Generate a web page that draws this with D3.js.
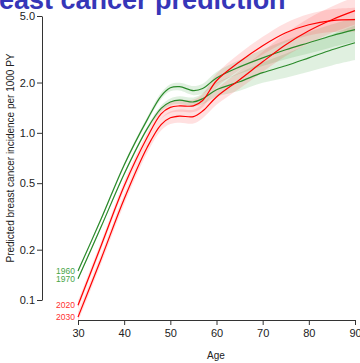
<!DOCTYPE html>
<html><head><meta charset="utf-8">
<script src="https://cdn.jsdelivr.net/npm/d3@7"></script>
<style>body{margin:0;background:#fff}svg{display:block}</style>
</head><body>
<svg id="chart" width="360" height="363"></svg>
<script>
const ages = [30,35,40,45,48,50,52,55,57,60,65,70,75,80,85,90];
const yearLabels = ["1960","1970","2020","2030"];
const inc1960 = [0.149,0.305,0.643,1.20,1.66,1.86,1.89,1.79,1.84,2.13,2.48,2.81,3.14,3.46,3.81,4.14];
const inc1970 = [0.134,0.274,0.568,1.06,1.40,1.53,1.57,1.53,1.60,1.81,2.02,2.29,2.52,2.81,3.14,3.46];
const inc2020 = [0.093,0.211,0.481,0.94,1.30,1.42,1.45,1.45,1.56,2.05,2.66,3.32,3.97,4.43,4.69,4.75];
const inc2030 = [0.079,0.176,0.402,0.82,1.12,1.23,1.26,1.25,1.35,1.64,2.08,2.66,3.37,4.08,4.75,5.38];
const ci1960 = [1.02,1.02,1.025,1.035,1.045,1.05,1.055,1.065,1.07,1.085,1.10,1.12,1.14,1.16,1.17,1.18];
const ci1970 = [1.015,1.015,1.02,1.03,1.04,1.05,1.055,1.065,1.08,1.10,1.13,1.15,1.18,1.21,1.24,1.27];
const ci2020 = [1.06,1.06,1.065,1.07,1.075,1.08,1.085,1.09,1.095,1.10,1.12,1.13,1.145,1.16,1.17,1.18];
const ci2030 = [1.07,1.07,1.075,1.08,1.085,1.09,1.095,1.10,1.105,1.115,1.13,1.15,1.17,1.19,1.20,1.21];
const yTicks = [0.1,0.2,0.5,1.0,2.0,5.0];
const yTickLabels = ["0.1","0.2","0.5","1.0","2.0","5.0"];
const xTicks = [30,40,50,60,70,80,90];

const series = [
  {label:yearLabels[0], v:inc1960, ci:ci1960, line:"#2a8a2a", band:"#2e9b2e", text:"#47a547"},
  {label:yearLabels[1], v:inc1970, ci:ci1970, line:"#2a8a2a", band:"#2e9b2e", text:"#47a547"},
  {label:yearLabels[2], v:inc2020, ci:ci2020, line:"#ff0000", band:"#ff3030", text:"#ff3030"},
  {label:yearLabels[3], v:inc2030, ci:ci2030, line:"#ff0000", band:"#ff3030", text:"#ff3030"}
];

const svg = d3.select("#chart");
const font = "'Liberation Sans', Arial, sans-serif";
const x = d3.scaleLinear().domain([30,90]).range([78,355]);
const y = d3.scaleLog().domain([0.1,5]).range([300,16]);

svg.append("text").attr("x",-31).attr("y",9)
  .attr("font-family",font).attr("font-weight","bold").attr("font-size",27)
  .attr("fill","#3636b8").text("Breast cancer prediction");

const curve = d3.curveCatmullRom.alpha(0.5);
const area = d3.area().x(d=>x(d.a)).y0(d=>y(d.lo)).y1(d=>y(d.hi)).curve(curve);
const line = d3.line().x(d=>x(d.a)).y(d=>y(d.v)).curve(curve);

series.forEach(s=>{
  const pts = ages.map((a,i)=>({a, v:s.v[i], lo:s.v[i]/s.ci[i], hi:s.v[i]*s.ci[i]}));
  svg.append("path").datum(pts).attr("d",area).attr("fill",s.band).attr("fill-opacity",0.15).attr("stroke","none");
});
series.forEach(s=>{
  const pts = ages.map((a,i)=>({a, v:s.v[i]}));
  svg.append("path").datum(pts).attr("d",line).attr("fill","none").attr("stroke",s.line).attr("stroke-width",1.2);
  svg.append("text").attr("x",x(ages[0])-3).attr("y",y(s.v[0])+3)
    .attr("text-anchor","end").attr("font-family",font).attr("font-size",8.5)
    .attr("fill",s.text).text(s.label);
});

// y axis
const yAx = d3.axisLeft(y).tickValues(yTicks).tickFormat((d,i)=>yTickLabels[i]).tickSize(5).tickSizeOuter(0);
const gy = svg.append("g").attr("transform","translate(42,0)").call(yAx);
gy.select(".domain").attr("stroke","#333");
gy.selectAll(".tick line").attr("stroke","#333");
gy.selectAll(".tick text").attr("font-family",font).attr("font-size",11).attr("fill","#222").attr("x",-7);

// x axis
const xAx = d3.axisBottom(x).tickValues(xTicks).tickFormat(d3.format("d")).tickSize(5).tickSizeOuter(0);
const gx = svg.append("g").attr("transform","translate(0,320)").call(xAx);
gx.select(".domain").attr("stroke","#333");
gx.selectAll(".tick line").attr("stroke","#333");
gx.selectAll(".tick text").attr("font-family",font).attr("font-size",11).attr("fill","#222").attr("y",9);

svg.append("text").attr("x",216).attr("y",359).attr("text-anchor","middle")
  .attr("font-family",font).attr("font-size",10).attr("fill","#222").text("Age");
svg.append("text").attr("transform","translate(14,158) rotate(-90)").attr("text-anchor","middle")
  .attr("font-family",font).attr("font-size",10).attr("fill","#222")
  .text("Predicted breast cancer incidence per 1000 PY");
</script>
</body></html>
